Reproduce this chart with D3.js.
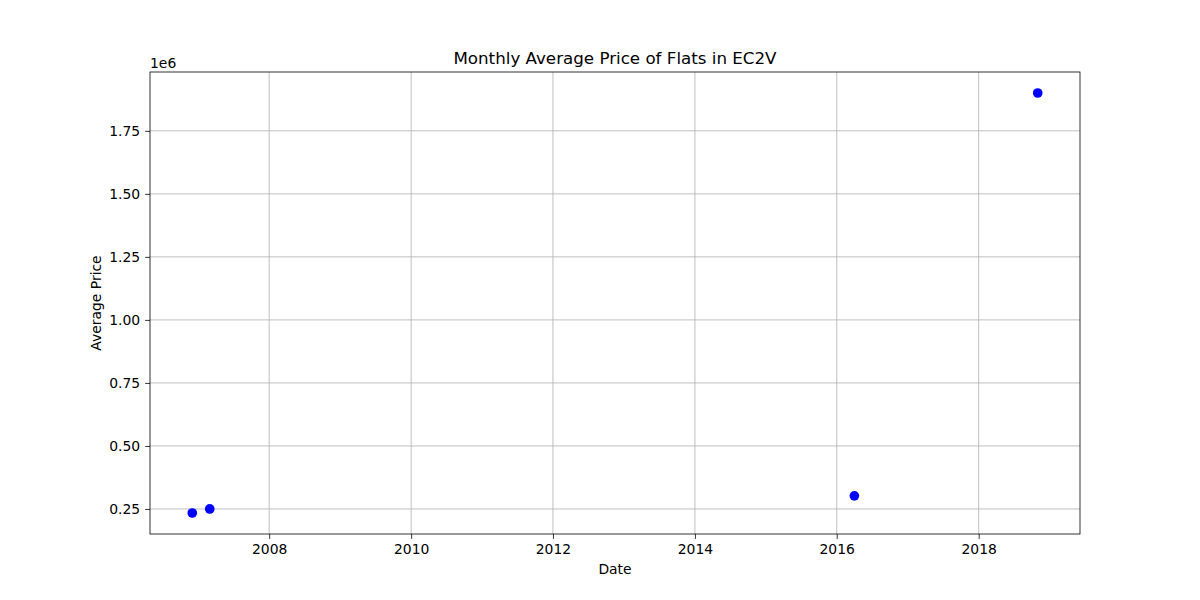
<!DOCTYPE html>
<html>
<head>
  <meta charset="utf-8">
  <title>Monthly Average Price of Flats in EC2V</title>
  <script src="https://d3js.org/d3.v7.min.js"></script>
  <style>
    body { margin: 0; background: #fff; }
    svg { display: block; font-family: "DejaVu Sans", sans-serif; }
  </style>
</head>
<body>
  <svg width="1200" height="600"></svg>

  <script>
    // data
    const dates = ["2006-12-01", "2007-03-01", "2016-04-01", "2018-11-01"];
    const prices = [234000, 250000, 302000, 1900000];
    const yTicks = [0.25, 0.5, 0.75, 1.0, 1.25, 1.5, 1.75];
    const xTickYears = [2008, 2010, 2012, 2014, 2016, 2018];

    const parse = d3.utcParse("%Y-%m-%d");
    const points = dates.map((d, i) => ({ date: parse(d), price: prices[i] }));

    const svg = d3.select("svg");
    const plotL = 150, plotR = 1080, plotT = 72, plotB = 534;

    // matplotlib style 5% margins
    const xExt = d3.extent(points, d => +d.date);
    const xPad = (xExt[1] - xExt[0]) * 0.05;
    const x = d3.scaleUtc()
      .domain([new Date(xExt[0] - xPad), new Date(xExt[1] + xPad)])
      .range([plotL, plotR]);

    const yExt = d3.extent(points, d => d.price / 1e6);
    const yPad = (yExt[1] - yExt[0]) * 0.05;
    const y = d3.scaleLinear()
      .domain([yExt[0] - yPad, yExt[1] + yPad])
      .range([plotB, plotT]);

    const xTicks = xTickYears.map(yr => new Date(Date.UTC(yr, 0, 1)));

    // grid
    const grid = svg.append("g");
    grid.selectAll(".gx").data(xTicks).join("line")
      .attr("x1", d => x(d)).attr("x2", d => x(d))
      .attr("y1", plotT).attr("y2", plotB)
      .attr("stroke", "#b0b0b0").attr("stroke-width", 0.8);
    grid.selectAll(".gy").data(yTicks).join("line")
      .attr("x1", plotL).attr("x2", plotR)
      .attr("y1", d => y(d)).attr("y2", d => y(d))
      .attr("stroke", "#b0b0b0").attr("stroke-width", 0.8);

    // axes
    const xAxis = svg.append("g")
      .attr("transform", `translate(0,${plotB})`)
      .call(d3.axisBottom(x).tickValues(xTicks).tickFormat(d3.utcFormat("%Y"))
        .tickSize(4.9).tickPadding(4.9));
    const yAxis = svg.append("g")
      .attr("transform", `translate(${plotL},0)`)
      .call(d3.axisLeft(y).tickValues(yTicks).tickFormat(d3.format(".2f"))
        .tickSize(4.9).tickPadding(4.9));
    [xAxis, yAxis].forEach(a => {
      a.select(".domain").remove();
      a.selectAll("line").attr("stroke", "#000").attr("stroke-width", 0.8);
      a.selectAll("text").attr("font-size", "13.9px").attr("fill", "#000")
        .attr("font-family", "DejaVu Sans, sans-serif");
    });

    // frame
    svg.append("rect")
      .attr("x", plotL).attr("y", plotT)
      .attr("width", plotR - plotL).attr("height", plotB - plotT)
      .attr("fill", "none").attr("stroke", "#000").attr("stroke-width", 0.8);

    // points
    svg.append("g").selectAll("circle").data(points).join("circle")
      .attr("cx", d => x(d.date))
      .attr("cy", d => y(d.price / 1e6))
      .attr("r", 4.85)
      .attr("fill", "#0000ff");

    // labels
    svg.append("text")
      .attr("x", (plotL + plotR) / 2).attr("y", plotT - 8)
      .attr("text-anchor", "middle").attr("font-size", "16.7px")
      .text("Monthly Average Price of Flats in EC2V");
    svg.append("text")
      .attr("x", plotL).attr("y", plotT - 4)
      .attr("font-size", "13.9px")
      .text("1e6");
    svg.append("text")
      .attr("x", (plotL + plotR) / 2).attr("y", 574)
      .attr("text-anchor", "middle").attr("font-size", "13.9px")
      .text("Date");
    svg.append("text")
      .attr("transform", `translate(101,${(plotT + plotB) / 2}) rotate(-90)`)
      .attr("text-anchor", "middle").attr("font-size", "13.9px")
      .text("Average Price");
  </script>
</body>
</html>
